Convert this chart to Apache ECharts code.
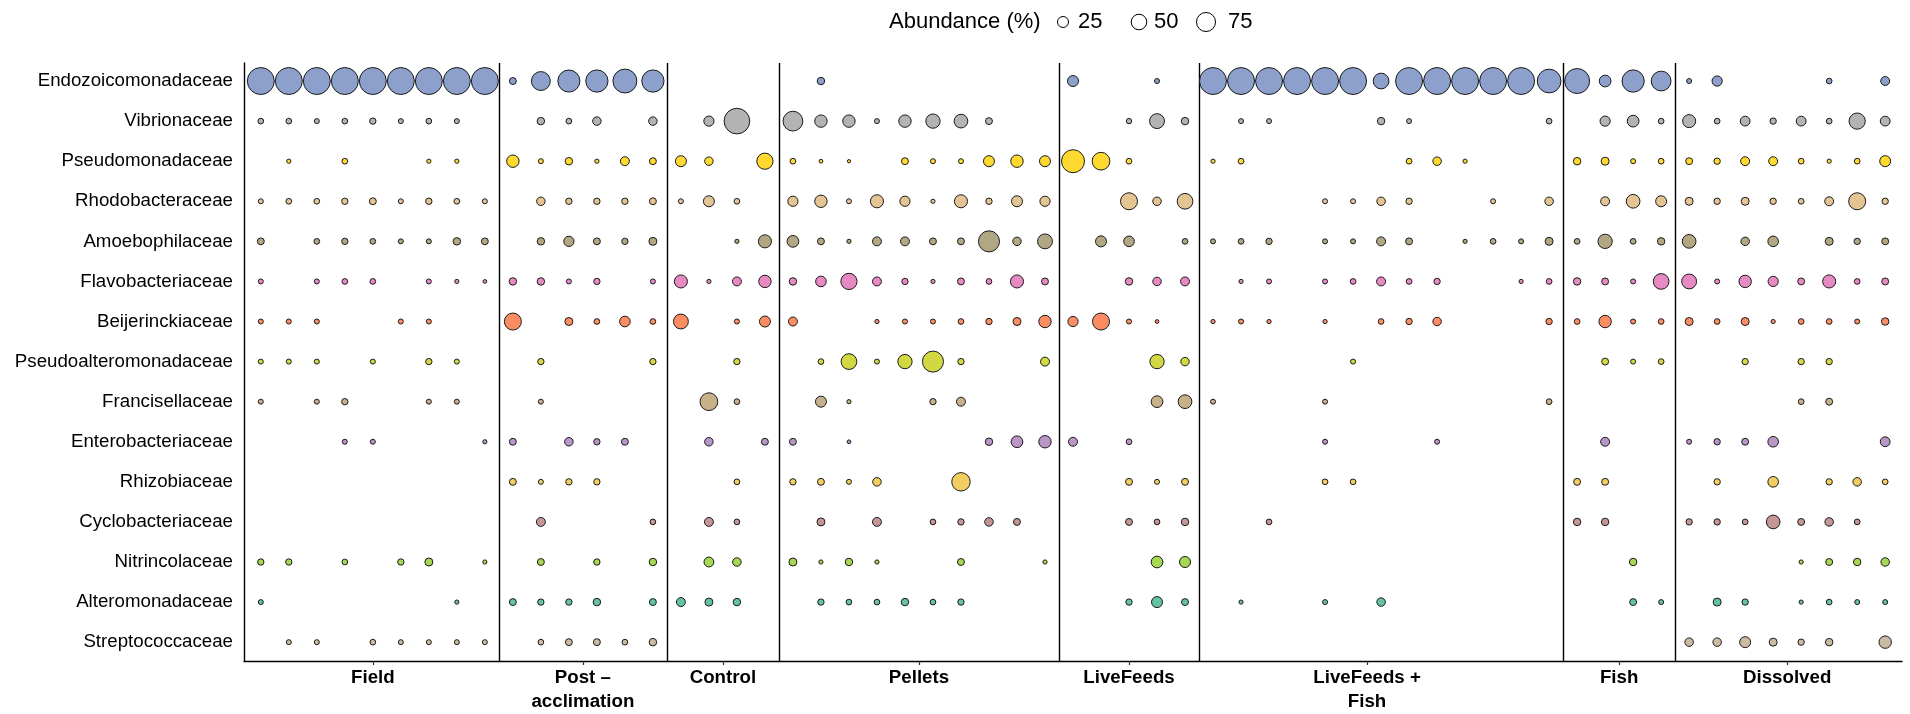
<!DOCTYPE html>
<html>
<head>
<meta charset="utf-8">
<script src="https://cdn.jsdelivr.net/npm/echarts@6/dist/echarts.min.js"></script>
<style>
html,body{margin:0;padding:0;background:#fff;}
#chart{width:1910px;height:714px;}
</style>
</head>
<body>
<div id="chart"></div>
<script>
// ---------- DATA ----------
const families = ['Endozoicomonadaceae','Vibrionaceae','Pseudomonadaceae','Rhodobacteraceae','Amoebophilaceae','Flavobacteriaceae','Beijerinckiaceae','Pseudoalteromonadaceae','Francisellaceae','Enterobacteriaceae','Rhizobiaceae','Cyclobacteriaceae','Nitrincolaceae','Alteromonadaceae','Streptococcaceae'];
const familyColors = ['#8DA0CB','#B3B3B3','#FFD92F','#E5C494','#B1A783','#E78AC3','#FC8D62','#D2D841','#C6B18B','#BA95C7','#F2CE61','#C49696','#A6D854','#66C2A5','#CCBBA3'];
const groups = ['Field','Post –\nacclimation','Control','Pellets','LiveFeeds','LiveFeeds +\nFish','Fish','Dissolved'];
const groupSizes = [9,6,4,10,5,13,4,8];
const groupTickPos = [5,12.5,17.5,24.5,32,40.5,49.5,55.5];
const legendKeys = [25,50,75];
const legendTitle = 'Abundance (%)';

// abundance (%) per sample, 59 samples, grouped: Field | Post | Control | Pellets | LiveFeeds | LiveFeeds+Fish | Fish | Dissolved
const endozoicomonadaceae = [87,87,87,87,87,87,87,87,87, 7,44,59,60,69,60, 0,0,0,0, 0,8,0,0,0,0,0,0,0,0, 16,0,0,4,0, 87,87,87,87,87,87,31,87,87,87,87,87,68, 75,18,60,48, 4,14,0,0,0,5,0,11];
const vibrionaceae = [5,5,4,5,6,4,5,4,0, 0,8,5,10,0,10, 0,14,79,0, 48,20,20,4,20,26,24,7,0,0, 0,0,4.5,28,8, 0,4,4,0,0,0,8,4,0,0,0,0,5, 0,14,18,5, 22,5,13,6,13,5,33,13];
const pseudomonadaceae = [0,3,0,5,0,0,3,3,0, 20,4,8,3,11,7, 16,10,0,33, 5,2.5,2,0,7,4,4,16,20,16, 64,39,5,0,0, 3,5,0,0,0,0,0,5,10,3,0,0,0, 8,9,4,5, 7,6,11,11,5,3,5,16];
const rhodobacteraceae = [4,5,5,6,7,4,6,5,4, 0,10,6,6,6,7, 4,16,5,0, 14,20,4,22,14,3,22,6,16,14, 0,0,36,10,31, 0,0,0,0,4,4,10,6,0,0,4,0,10, 0,11,24,16, 9,6,9,6,5,11,36,6];
const amoebophilaceae = [7,0,5,6,5,4,4,8,7, 0,8,14,7,6,9, 0,0,3,22, 18,7,3,11,11,7,7,54,10,28, 0,16,15,0,5, 4,5,6,0,4,4,11,7,0,3,5,4,9, 5,26,5,8, 24,0,10,15,0,9,6,7];
const flavobacteriaceae = [4,0,4,5,5,0,4,3,2.5, 8,8,4,6,0,4, 22,3,11,20, 8,15,33,11,6,3,7,5,22,7, 0,0,8,10,11, 0,3,4,0,4,5,11,5,6,0,0,3,5, 8,7,4,31, 28,4,20,14,7,22,5,7];
const beijerinckiaceae = [4,4,4,0,0,4,4,0,0, 36,0,9,5,15,5, 28,0,4,16, 11,0,0,3,4,4,5,6,9,20, 14,36,4,2.5,0, 3,4,3,0,3,0,5,6,10,0,0,0,6, 5,20,4,5, 9,5,9,3,5,5,4,8];
const pseudoalteromonadaceae = [4,4,4,0,4,0,6,4,0, 0,6,0,0,0,6, 0,0,6,0, 0,5,31,4,26,54,6,0,0,11, 0,0,0,26,10, 0,0,0,0,0,4,0,0,0,0,0,0,0, 0,7,4,5, 0,0,6,0,6,6,0,0];
const francisellaceae = [4,0,4,6,0,0,4,4,0, 0,4,0,0,0,0, 0,39,5,0, 0,16,3,0,0,6,11,0,0,0, 0,0,0,18,24, 4,0,0,0,4,0,0,0,0,0,0,0,5, 0,0,0,0, 0,0,0,0,5,7,0,0];
const enterobacteriaceae = [0,0,0,4,4,0,0,0,3, 7,0,10,6,7,0, 0,10,0,7, 7,0,2.5,0,0,0,0,8,18,20, 11,0,5,0,0, 0,0,0,0,4,0,0,0,4,0,0,0,0, 0,11,0,0, 4,6,7,15,0,0,0,13];
const rhizobiaceae = [0,0,0,0,0,0,0,0,0, 7,4,6,6,0,0, 0,0,5,0, 6,7,4,10,0,0,42,0,0,0, 0,0,7,4,7, 0,0,0,0,5,5,0,0,0,0,0,0,0, 7,7,0,0, 0,6,0,15,0,6,10,5];
const cyclobacteriaceae = [0,0,0,0,0,0,0,0,0, 0,11,0,0,0,5, 0,11,5,0, 0,9,0,11,0,5,6,10,7,0, 0,0,7,5,8, 0,0,5,0,0,0,0,0,0,0,0,0,0, 8,8,0,0, 6,6,5,24,7,10,5,0];
const nitrincolaceae = [6,6,0,5,0,6,9,0,3, 0,7,0,6,0,8, 0,13,10,0, 9,3,8,3,0,0,7,0,0,3, 0,0,0,18,16, 0,0,0,0,0,0,0,0,0,0,0,0,0, 0,0,8,0, 0,0,0,0,3,7,8,10];
const alteromonadaceae = [4,0,0,0,0,0,0,3,0, 7,6,6,8,0,7, 11,9,8,0, 0,6,5,5,8,5,6,0,0,0, 0,0,6,16,7, 0,3,0,0,4,0,10,0,0,0,0,0,0, 0,0,7,4, 0,9,6,0,3,5,4,4];
const streptococcaceae = [0,4,4,0,5,4,4,4,4, 0,5,7,7,5,8, 0,0,0,0, 0,0,0,0,0,0,0,0,0,0, 0,0,0,0,0, 0,0,0,0,0,0,0,0,0,0,0,0,0, 0,0,0,0, 10,10,16,9,6,8,0,20];

const abundance = [endozoicomonadaceae, vibrionaceae, pseudomonadaceae, rhodobacteraceae, amoebophilaceae, flavobacteriaceae, beijerinckiaceae, pseudoalteromonadaceae, francisellaceae, enterobacteriaceae, rhizobiaceae, cyclobacteriaceae, nitrincolaceae, alteromonadaceae, streptococcaceae];

// ---------- BUILD ----------
const nSamples = groupSizes.reduce((a,b)=>a+b,0);
const separators = [];
let acc = 0;
for (let i = 0; i < groupSizes.length - 1; i++) { acc += groupSizes[i]; separators.push(acc + 0.5); }

const FONT = '"Liberation Sans", Arial, Helvetica, sans-serif';
const bubbleSize = v => 3 * Math.sqrt(v) - 1;
const legendSize = v => 2.2 * Math.sqrt(v);

const series = families.map((fam, r) => {
  const data = [];
  abundance[r].forEach((v, c) => { if (v > 0) data.push([c + 1, r + 1, v]); });
  const s = {
    name: fam,
    type: 'scatter',
    data: data,
    symbol: 'circle',
    symbolSize: d => bubbleSize(d[2]),
    itemStyle: { color: familyColors[r], borderColor: '#1a1a1a', borderWidth: 1, opacity: 1 },
    emphasis: { disabled: true },
    silent: true,
    z: 3
  };
  if (r === 0) {
    s.markLine = {
      silent: true,
      symbol: ['none', 'none'],
      label: { show: false },
      lineStyle: { color: '#000', width: 1.4, type: 'solid' },
      emphasis: { disabled: true },
      data: separators.map(x => ({ xAxis: x })),
      z: 2
    };
  }
  return s;
});

// legend as graphic
const legendY = 22;
const legendFont = '22px ' + FONT;
const legendGraphics = [
  { type: 'text', x: 889, y: legendY, style: { text: legendTitle, font: legendFont, fill: '#000', align: 'left', verticalAlign: 'middle' } }
];
const legendCx = [1063, 1139, 1206];
const legendTx = [1078, 1154, 1228];
legendKeys.forEach((k, i) => {
  legendGraphics.push({ type: 'circle', shape: { cx: legendCx[i], cy: legendY, r: legendSize(k) / 2 }, style: { fill: '#fff', stroke: '#000', lineWidth: 1 } });
  legendGraphics.push({ type: 'text', x: legendTx[i], y: legendY, style: { text: String(k), font: legendFont, fill: '#000', align: 'left', verticalAlign: 'middle' } });
});

const chart = echarts.init(document.getElementById('chart'), null, { renderer: 'canvas' });
chart.setOption({
  backgroundColor: '#fff',
  animation: false,
  grid: { left: 244, right: 8, top: 63, bottom: 47, containLabel: false },
  xAxis: {
    type: 'value', min: 0.4, max: nSamples + 0.6,
    splitLine: { show: false },
    axisLine: { show: true, lineStyle: { color: '#000', width: 1.4 } },
    axisTick: { show: true, customValues: groupTickPos, length: 4, lineStyle: { color: '#333', width: 1.2 } },
    axisLabel: {
      show: true, customValues: groupTickPos, margin: 5,
      formatter: v => { const i = groupTickPos.indexOf(v); return i >= 0 ? groups[i] : ''; },
      fontFamily: FONT, fontSize: 18.7, fontWeight: 'bold', color: '#000', lineHeight: 24
    }
  },
  yAxis: {
    type: 'value', inverse: true, min: 0.55, max: families.length + 0.47,
    splitLine: { show: false },
    axisLine: { show: true, lineStyle: { color: '#000', width: 1.4 } },
    axisTick: { show: false },
    axisLabel: {
      show: true, customValues: families.map((f, i) => i + 1), margin: 11,
      formatter: v => families[Math.round(v) - 1] || '',
      fontFamily: FONT, fontSize: 18.7, color: '#000'
    }
  },
  graphic: legendGraphics,
  series: series
});
</script>
</body>
</html>
